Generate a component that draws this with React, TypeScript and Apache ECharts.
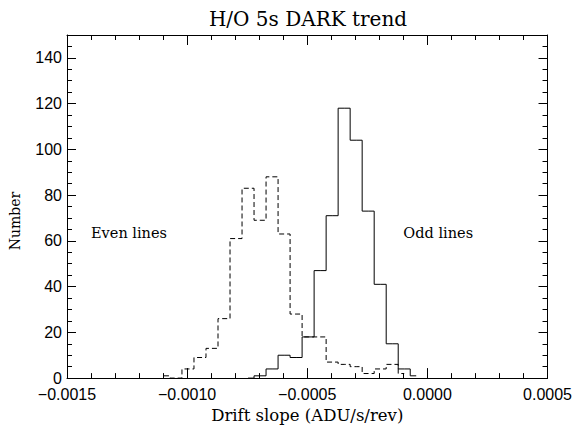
import React, { useEffect, useRef } from "react";
import * as echarts from "echarts";

// Histogram bin centres (ADU/s/rev) and counts
const evenCenters = [
  -0.0010965, -0.0010465, -0.0009965, -0.0009465, -0.0008965, -0.0008465, -0.0007965,
  -0.0007465, -0.0006965, -0.0006465, -0.0005965, -0.0005465, -0.0004965, -0.0004465,
  -0.0003965, -0.0003465, -0.0002965, -0.0002465, -0.0001965, -0.0001465, -0.0000965,
];
const evenCounts = [1, 0, 4, 9, 13, 26, 61, 83, 69, 88, 63, 28, 18, 18, 7, 6, 5, 2, 4, 6, 2];

const oddCenters = [
  -0.0007465, -0.0006965, -0.0006465, -0.0005965, -0.0005465, -0.0004965, -0.0004465,
  -0.0003965, -0.0003465, -0.0002965, -0.0002465, -0.0001965, -0.0001465, -0.0000965,
  -0.0000465,
];
const oddCounts = [0, 1, 4, 10, 9, 18, 47, 71, 118, 104, 73, 41, 15, 4, 1];

const titleText = "H/O 5s DARK trend";
const xTitle = "Drift slope (ADU/s/rev)";
const yTitle = "Number";
const annotations = [
  { text: "Even lines", x: -0.0014, y: 60 },
  { text: "Odd lines", x: -0.0001, y: 60 },
];

const serif = "DejaVu Serif";
const sans = "Liberation Sans";

function fmtX(v: number): string {
  const a = Math.abs(v).toFixed(4);
  return v < -1e-12 ? "\u2212" + a : a;
}

export default function App() {
  const ref = useRef<HTMLDivElement>(null);
  useEffect(() => {
    const chart = echarts.init(ref.current!, null, { renderer: "svg" });
    const black = "#000";
    const xBase = {
      type: "value",
      min: -0.0015,
      max: 0.0005,
      interval: 0.0005,
      axisLine: { show: true, onZero: false, lineStyle: { color: black, width: 1 } },
      axisTick: { show: true, inside: true, length: 10, lineStyle: { color: black, width: 1 } },
      minorTick: { show: true, splitNumber: 5, length: 5, lineStyle: { color: black, width: 1 } },
      splitLine: { show: false },
      minorSplitLine: { show: false },
    };
    const yBase = {
      type: "value",
      min: 0,
      max: 150,
      interval: 20,
      axisLine: { show: true, onZero: false, lineStyle: { color: black, width: 1 } },
      axisTick: { show: true, inside: true, length: 9, lineStyle: { color: black, width: 1 } },
      minorTick: { show: true, splitNumber: 4, length: 5, lineStyle: { color: black, width: 1 } },
      splitLine: { show: false },
      minorSplitLine: { show: false },
    };
    chart.setOption({
      animation: false,
      backgroundColor: "#fff",
      grid: { left: 67, right: 26, top: 35, bottom: 46 },
      xAxis: [
        {
          ...xBase,
          position: "bottom",
          axisLabel: {
            formatter: fmtX,
            color: black,
            fontFamily: sans,
            fontSize: 16,
            margin: 8,
          },
          name: xTitle,
          nameLocation: "middle",
          nameGap: 21,
          nameTextStyle: { color: black, fontFamily: serif, fontSize: 16.5 },
        },
        { ...xBase, position: "top", axisLabel: { show: false } },
      ],
      yAxis: [
        {
          ...yBase,
          position: "left",
          axisLabel: {
            color: black,
            fontFamily: sans,
            fontSize: 16,
            margin: 5,
            padding: [0, 0, 8, 0],
            showMaxLabel: false,
            formatter: (v: number) => (v > 140 ? "" : String(v)),
          },
        },
        { ...yBase, position: "right", axisLabel: { show: false } },
      ],
      series: [
        {
          name: "Even lines",
          type: "line",
          step: "middle",
          xAxisIndex: 0,
          yAxisIndex: 0,
          data: evenCenters.map((x, i) => [x, evenCounts[i]]),
          symbol: "none",
          lineStyle: { color: black, width: 1, type: [5, 3] },
        },
        {
          name: "Odd lines",
          type: "line",
          step: "middle",
          xAxisIndex: 0,
          yAxisIndex: 0,
          data: oddCenters.map((x, i) => [x, oddCounts[i]]),
          symbol: "none",
          lineStyle: { color: black, width: 1 },
        },
      ],
    });

    const annoGraphics = annotations.map((a) => {
      const p = chart.convertToPixel({ gridIndex: 0 }, [a.x, a.y]) as number[];
      return {
        type: "text",
        x: p[0],
        y: p[1],
        style: {
          text: a.text,
          fill: black,
          font: `14.5px "${serif}"`,
          textAlign: "left",
          textVerticalAlign: "bottom",
        },
      };
    });

    chart.setOption({
      graphic: [
        {
          type: "text",
          x: 308,
          y: 19,
          style: {
            text: titleText,
            fill: black,
            font: `20px "${serif}"`,
            textAlign: "center",
            textVerticalAlign: "middle",
          },
        },
        {
          type: "text",
          x: 15,
          y: 221,
          rotation: Math.PI / 2,
          style: {
            text: yTitle,
            fill: black,
            font: `14px "${serif}"`,
            textAlign: "center",
            textVerticalAlign: "middle",
          },
        },
        ...annoGraphics,
      ],
    });

    return () => chart.dispose();
  }, []);
  return (
    <div
      ref={ref}
      style={{ position: "fixed", left: 0, top: 0, width: 575, height: 429, background: "#fff" }}
    />
  );
}
